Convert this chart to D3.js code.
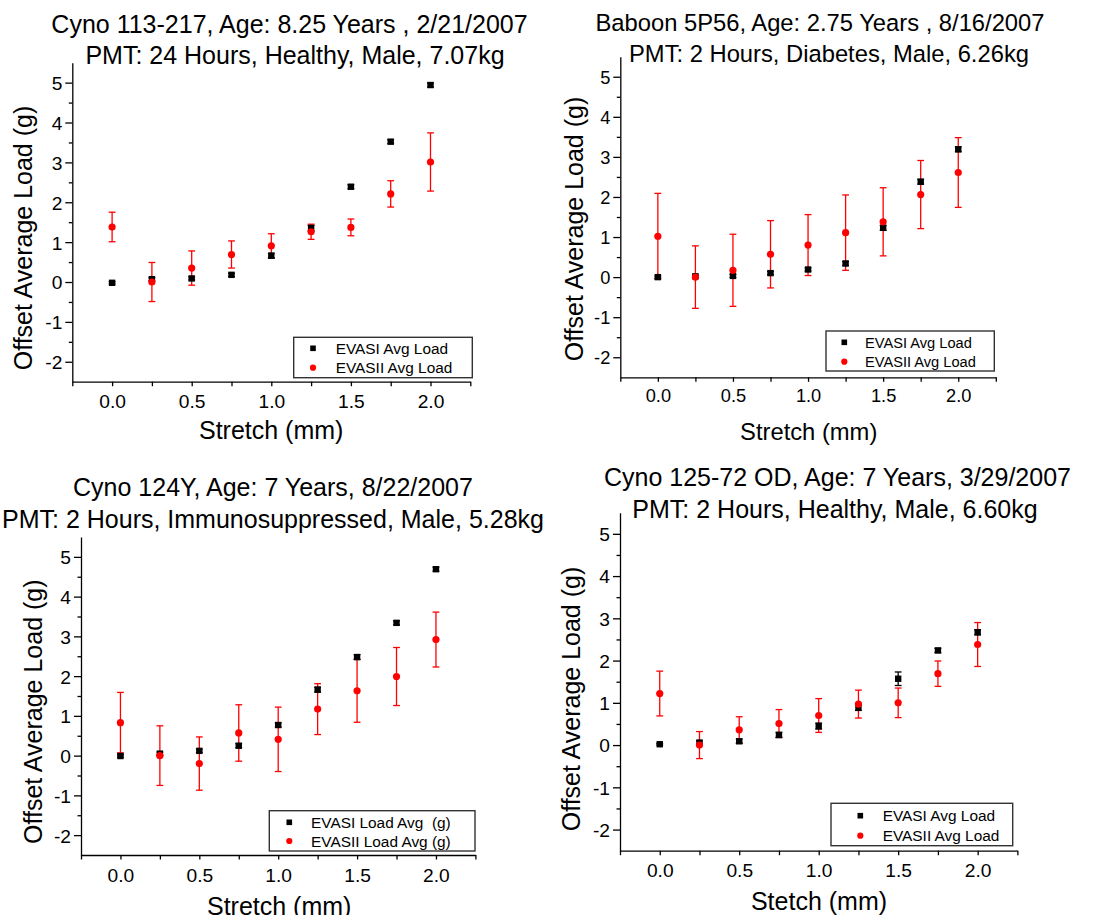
<!DOCTYPE html>
<html>
<head>
<meta charset="utf-8">
<script src="https://cdn.jsdelivr.net/npm/d3@7"></script>
<style>
	body { margin: 0; background: #fff; }
	svg { display: block; font-family: "Liberation Sans", Arial, sans-serif; }
</style>
</head>
<body>
<div id="chart"></div>
<script>

// stretch steps (mm), shared by all four panels
var stretch = [0, 0.25, 0.5, 0.75, 1.0, 1.25, 1.5, 1.75, 2.0];

// cyno 113-217
var cyno113Evasi = [-0.02, 0.07, 0.09, 0.18, 0.66, 1.35, 2.39, 3.52, 4.94];
var cyno113EvasiErr = [0.03, 0.04, 0.04, 0.04, 0.06, 0.07, 0.05, 0.05, 0.05];
var cyno113Evasii = [1.38, 0.00, 0.35, 0.69, 0.91, 1.26, 1.37, 2.21, 3.01];
var cyno113EvasiiErr = [0.37, 0.49, 0.43, 0.34, 0.30, 0.19, 0.21, 0.33, 0.73];

// baboon 5P56
var baboonEvasi = [0.00, 0.02, 0.03, 0.10, 0.19, 0.34, 1.23, 2.38, 3.19];
var baboonEvasiErr = [0.03, 0.03, 0.04, 0.04, 0.04, 0.05, 0.06, 0.06, 0.06];
var baboonEvasii = [1.02, 0.00, 0.17, 0.57, 0.80, 1.11, 1.38, 2.06, 2.61];
var baboonEvasiiErr = [1.07, 0.78, 0.90, 0.84, 0.76, 0.94, 0.85, 0.85, 0.87];

// cyno 124Y
var cyno124Evasi = [-0.01, 0.05, 0.12, 0.25, 0.77, 1.66, 2.48, 3.34, 4.69];
var cyno124EvasiErr = [0.03, 0.04, 0.04, 0.05, 0.05, 0.06, 0.06, 0.05, 0.05];
var cyno124Evasii = [0.83, 0.00, -0.20, 0.57, 0.41, 1.17, 1.63, 1.99, 2.92];
var cyno124EvasiiErr = [0.76, 0.75, 0.67, 0.71, 0.81, 0.64, 0.79, 0.73, 0.69];

// cyno 125-72 OD
var cyno125Evasi = [0.02, 0.06, 0.09, 0.24, 0.45, 0.89, 1.57, 2.24, 2.67];
var cyno125EvasiErr = [0.02, 0.04, 0.05, 0.06, 0.07, 0.07, 0.16, 0.05, 0.06];
var cyno125Evasii = [1.22, 0.00, 0.36, 0.51, 0.70, 0.97, 1.00, 1.69, 2.38];
var cyno125EvasiiErr = [0.53, 0.32, 0.31, 0.33, 0.40, 0.33, 0.35, 0.30, 0.52];

// texts
var titles = [
	["Cyno 113-217, Age: 8.25 Years , 2/21/2007", "PMT: 24 Hours, Healthy, Male, 7.07kg"],
	["Baboon 5P56, Age: 2.75 Years , 8/16/2007", "PMT: 2 Hours, Diabetes, Male, 6.26kg"],
	["Cyno 124Y, Age: 7 Years, 8/22/2007", "PMT: 2 Hours, Immunosuppressed, Male, 5.28kg"],
	["Cyno 125-72 OD, Age: 7 Years, 3/29/2007", "PMT: 2 Hours, Healthy, Male, 6.60kg"]
];
var xLabels = ["Stretch (mm)", "Stretch (mm)", "Stretch (mm)", "Stetch (mm)"];
var yLabel = "Offset Average Load (g)";
var legendLabels = [
	["EVASI Avg Load", "EVASII Avg Load"],
	["EVASI Avg Load", "EVASII Avg Load"],
	["EVASI Load Avg  (g)", "EVASII Load Avg (g)"],
	["EVASI Avg Load", "EVASII Avg Load"]
];

// axis ranges and ticks
var xDomain = [-0.25, 2.25];
var yDomain = [-2.5, 5.5];
var xTicks = [-0.25, 0, 0.25, 0.5, 0.75, 1, 1.25, 1.5, 1.75, 2, 2.25];
var xTickLabels = [0, 0.5, 1, 1.5, 2];
var yTicks = [-2, -1, 0, 1, 2, 3, 4, 5];
var yMinorTicks = [-1.5, -0.5, 0.5, 1.5, 2.5, 3.5, 4.5];

var series = [
	{evasi: cyno113Evasi, evasiErr: cyno113EvasiErr, evasii: cyno113Evasii, evasiiErr: cyno113EvasiiErr},
	{evasi: baboonEvasi, evasiErr: baboonEvasiErr, evasii: baboonEvasii, evasiiErr: baboonEvasiiErr},
	{evasi: cyno124Evasi, evasiErr: cyno124EvasiErr, evasii: cyno124Evasii, evasiiErr: cyno124EvasiiErr},
	{evasi: cyno125Evasi, evasiErr: cyno125EvasiErr, evasii: cyno125Evasii, evasiiErr: cyno125EvasiiErr}
];

// layout of each panel (pixels)
var panels = [
	{x0: 72.3, x1: 470.3, y0: 381.7, y1: 62.7, fs: 1,
		t1: [289.5, 32.5], t2: [295, 64.3], yl: [31.7, 238], xl: [271.2, 439],
		lg: {x: 293.7, y: 337.3, w: 178.6, h: 40.4, sx: 19.3, tx: 42, r1: 11, r2: 30.4}},
	{x0: 620.3, x1: 995.8, y0: 377.3, y1: 56.7, fs: 0.95,
		t1: [820, 31], t2: [829, 61.7], yl: [582.7, 229], xl: [808.7, 440],
		lg: {x: 826, y: 331, w: 168.3, h: 40, sx: 18.3, tx: 39, r1: 11.3, r2: 30.7}},
	{x0: 81, x1: 475.4, y0: 855, y1: 537, fs: 1,
		t1: [273, 496], t2: [273, 528], yl: [41.7, 711.7], xl: [279.2, 914.7],
		lg: {x: 269.3, y: 810.7, w: 205.7, h: 40.3, sx: 20, tx: 41.7, r1: 11.6, r2: 30.3}},
	{x0: 620, x1: 1017.4, y0: 850.7, y1: 512.7, fs: 1,
		t1: [837.5, 486], t2: [835, 518], yl: [580, 699], xl: [819, 910],
		lg: {x: 831, y: 803.3, w: 181.7, h: 42.4, sx: 29.3, tx: 51.7, r1: 12.4, r2: 32.4}}
];

var svg = d3.select("#chart")
	.append("svg")
	.attr("width", 1112)
	.attr("height", 915);

var fmt = d3.format(".1f");

// draws one error bar group
function drawErrors(g, x, y, vals, errs, color){

	var bars = g.append("g")
		.selectAll("g")
		.data(stretch)
		.enter()
		.append("g")
		.attr("stroke", color)
		.attr("stroke-width", 1.3);

	bars.append("line")
		.attr("x1", function(d){ return x(d); })
		.attr("x2", function(d){ return x(d); })
		.attr("y1", function(d, i){ return y(vals[i] - errs[i]); })
		.attr("y2", function(d, i){ return y(vals[i] + errs[i]); });

	[-1, 1].forEach(function(s){
		bars.append("line")
			.attr("x1", function(d){ return x(d) - 3.4; })
			.attr("x2", function(d){ return x(d) + 3.4; })
			.attr("y1", function(d, i){ return y(vals[i] + s * errs[i]); })
			.attr("y2", function(d, i){ return y(vals[i] + s * errs[i]); });
	});
}

panels.forEach(function(p, k){

	var g = svg.append("g");
	var d = series[k];

	var x = d3.scaleLinear().domain(xDomain).range([p.x0, p.x1]);
	var y = d3.scaleLinear().domain(yDomain).range([p.y0, p.y1]);

	// titles
	g.append("text")
		.attr("x", p.t1[0])
		.attr("y", p.t1[1])
		.attr("text-anchor", "middle")
		.style("font-size", (25 * p.fs) + "px")
		.text(titles[k][0]);

	g.append("text")
		.attr("x", p.t2[0])
		.attr("y", p.t2[1])
		.attr("text-anchor", "middle")
		.style("font-size", (25 * p.fs) + "px")
		.text(titles[k][1]);

	// x axis
	var xAxis = g.append("g")
		.attr("transform", "translate(0," + p.y0 + ")")
		.call(d3.axisBottom(x)
			.tickValues(xTicks)
			.tickSize(4.5)
			.tickSizeOuter(0)
			.tickFormat(function(v){
				return xTickLabels.indexOf(v) >= 0 ? fmt(v) : "";
			}));

	xAxis.selectAll("text")
		.attr("y", 26.5 * p.fs)
		.attr("dy", null)
		.attr("fill", "#000")
		.style("font-size", (19.2 * p.fs) + "px");

	// y axis major ticks
	var yAxis = g.append("g")
		.attr("transform", "translate(" + p.x0 + ",0)")
		.call(d3.axisLeft(y)
			.tickValues(yTicks)
			.tickSize(7)
			.tickSizeOuter(0)
			.tickFormat(function(v){ return String(v); }));

	yAxis.selectAll("text")
		.attr("x", -10)
		.attr("dy", "0.36em")
		.attr("fill", "#000")
		.style("font-size", (19.2 * p.fs) + "px");

	// y axis minor ticks
	var yMinor = g.append("g")
		.attr("transform", "translate(" + p.x0 + ",0)")
		.call(d3.axisLeft(y)
			.tickValues(yMinorTicks)
			.tickSize(3.5)
			.tickFormat(""));

	yMinor.select(".domain").remove();

	g.selectAll(".domain, .tick line")
		.attr("stroke", "#000")
		.attr("stroke-width", 1.3);

	// axis titles
	g.append("text")
		.attr("transform", "translate(" + p.yl[0] + "," + p.yl[1] + ") rotate(-90)")
		.attr("text-anchor", "middle")
		.style("font-size", "25px")
		.text(yLabel);

	g.append("text")
		.attr("x", p.xl[0])
		.attr("y", p.xl[1])
		.attr("text-anchor", "middle")
		.style("font-size", (25 * p.fs) + "px")
		.text(xLabels[k]);

	// error bars
	drawErrors(g, x, y, d.evasii, d.evasiiErr, "#ff0000");
	drawErrors(g, x, y, d.evasi, d.evasiErr, "#000");

	// EVASI squares
	g.append("g")
		.selectAll("rect")
		.data(stretch)
		.enter()
		.append("rect")
		.attr("x", function(v){ return x(v) - 3.2; })
		.attr("y", function(v, i){ return y(d.evasi[i]) - 3.2; })
		.attr("width", 6.4)
		.attr("height", 6.4)
		.attr("fill", "#000");

	// EVASII circles
	g.append("g")
		.selectAll("circle")
		.data(stretch)
		.enter()
		.append("circle")
		.attr("cx", function(v){ return x(v); })
		.attr("cy", function(v, i){ return y(d.evasii[i]); })
		.attr("r", 3.6)
		.attr("fill", "#ff0000");

	// legend
	var lg = g.append("g")
		.attr("transform", "translate(" + p.lg.x + "," + p.lg.y + ")");

	lg.append("rect")
		.attr("width", p.lg.w)
		.attr("height", p.lg.h)
		.attr("fill", "#fff")
		.attr("stroke", "#333")
		.attr("stroke-width", 1.4);

	lg.append("rect")
		.attr("x", p.lg.sx - 2.8)
		.attr("y", p.lg.r1 - 2.8)
		.attr("width", 5.6)
		.attr("height", 5.6)
		.attr("fill", "#000");

	lg.append("circle")
		.attr("cx", p.lg.sx)
		.attr("cy", p.lg.r2)
		.attr("r", 3.1)
		.attr("fill", "#ff0000");

	[p.lg.r1, p.lg.r2].forEach(function(r, i){
		lg.append("text")
			.attr("x", p.lg.tx)
			.attr("y", r)
			.attr("dy", "0.36em")
			.style("font-size", (15.4 * p.fs) + "px")
			.style("white-space", "pre")
			.text(legendLabels[k][i]);
	});
});

</script>
</body>
</html>
